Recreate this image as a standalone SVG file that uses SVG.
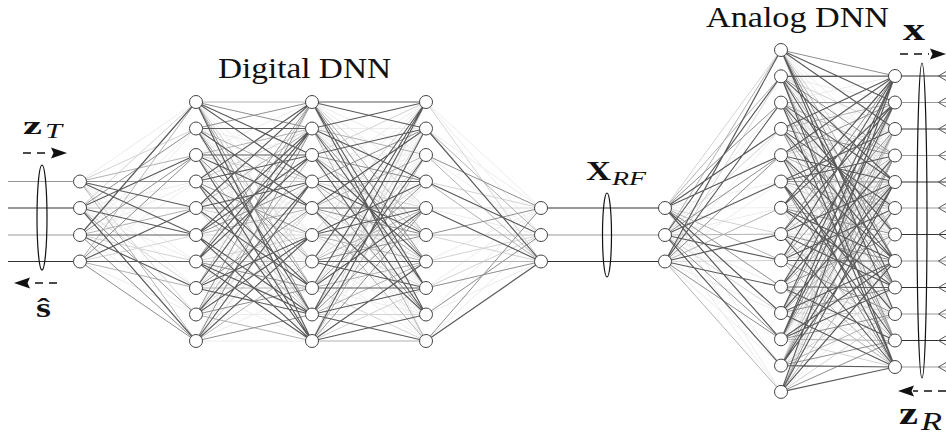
<svg xmlns="http://www.w3.org/2000/svg" width="946" height="439" viewBox="0 0 946 439">
<defs>
<style>
.e{fill:none;stroke-width:1}
.k0{stroke:#ececec}
.k1{stroke:#d3d3d3}
.k2{stroke:#b2b2b2}
.k3{stroke:#8e8e8e}
.k4{stroke:#5a5a5a;stroke-width:1.15}
.n circle{fill:#fff;stroke:#444;stroke-width:1}
.wd{stroke:#333;stroke-width:1.1;fill:none}
.wl{stroke:#999;stroke-width:1.1;fill:none}
.chev{fill:none;stroke:#555;stroke-width:1}
.ell{fill:none;stroke:#111;stroke-width:1.2}
.dash{fill:none;stroke:#111;stroke-width:1.3;stroke-dasharray:8 6}
.head{fill:#111}
text{font-family:"Liberation Serif","DejaVu Serif",serif;fill:#111}
.b{font-weight:bold}
.i{font-style:italic}
</style>
</defs>
<rect width="946" height="439" fill="#fff"/>
<g id="connectors">
<g id="edges-in-h1">
<path class="e k0" d="M80 181.5L196 102M80 181.5L196 261.5M80 181.5L196 288M80 208L196 181.5M80 208L196 261.5M80 235L196 128.5M80 235L196 181.5M80 235L196 314.5M80 261.5L196 128.5M80 261.5L196 181.5M80 261.5L196 314.5"/>
<path class="e k1" d="M80 181.5L196 128.5M80 181.5L196 314.5M80 208L196 102M80 208L196 288M80 235L196 261.5M80 261.5L196 235"/>
<path class="e k2" d="M80 181.5L196 155M80 181.5L196 341M80 208L196 208M80 235L196 208M80 261.5L196 102M80 261.5L196 288"/>
<path class="e k3" d="M80 181.5L196 181.5M80 208L196 128.5M80 208L196 314.5M80 235L196 155M80 235L196 341M80 261.5L196 155M80 261.5L196 341"/>
<path class="e k4" d="M80 181.5L196 208M80 181.5L196 235M80 208L196 155M80 208L196 235M80 208L196 341M80 235L196 102M80 235L196 235M80 235L196 288M80 261.5L196 208M80 261.5L196 261.5"/>
</g>
<g id="edges-h1-h2">
<path class="e k0" d="M196 102L312 208M196 102L312 235M196 128.5L312 155M196 128.5L312 235M196 128.5L312 341M196 155L312 102M196 155L312 235M196 155L312 288M196 181.5L312 208M196 181.5L312 261.5M196 208L312 155M196 208L312 261.5M196 208L312 341M196 235L312 102M196 235L312 261.5M196 235L312 288M196 261.5L312 181.5M196 261.5L312 208M196 288L312 155M196 288L312 261.5M196 288L312 341M196 314.5L312 128.5M196 314.5L312 261.5M196 314.5L312 314.5M196 341L312 102M196 341L312 155M196 341L312 288M196 341L312 341"/>
<path class="e k1" d="M196 102L312 261.5M196 128.5L312 261.5M196 155L312 181.5M196 181.5L312 128.5M196 181.5L312 314.5M196 208L312 235M196 235L312 235M196 261.5L312 235M196 288L312 181.5M196 314.5L312 208M196 341L312 208"/>
<path class="e k2" d="M196 102L312 102M196 102L312 288M196 128.5L312 181.5M196 155L312 128.5M196 155L312 314.5M196 181.5L312 181.5M196 208L312 128.5M196 208L312 314.5M196 235L312 208M196 261.5L312 261.5M196 288L312 102M196 288L312 288M196 314.5L312 155M196 314.5L312 341M196 341L312 261.5"/>
<path class="e k3" d="M196 102L312 128.5M196 102L312 314.5M196 128.5L312 102M196 128.5L312 288M196 155L312 261.5M196 181.5L312 235M196 208L312 208M196 235L312 181.5M196 261.5L312 102M196 261.5L312 288M196 288L312 208M196 314.5L312 102M196 314.5L312 288M196 341L312 128.5M196 341L312 314.5"/>
<path class="e k4" d="M196 102L312 155M196 102L312 181.5M196 102L312 341M196 128.5L312 128.5M196 128.5L312 208M196 128.5L312 314.5M196 155L312 155M196 155L312 208M196 155L312 341M196 181.5L312 102M196 181.5L312 155M196 181.5L312 288M196 181.5L312 341M196 208L312 102M196 208L312 181.5M196 208L312 288M196 235L312 128.5M196 235L312 155M196 235L312 314.5M196 235L312 341M196 261.5L312 128.5M196 261.5L312 155M196 261.5L312 314.5M196 261.5L312 341M196 288L312 128.5M196 288L312 235M196 288L312 314.5M196 314.5L312 181.5M196 314.5L312 235M196 341L312 181.5M196 341L312 235"/>
</g>
<g id="edges-h2-h3">
<path class="e k0" d="M312 102L426 155M312 102L426 181.5M312 102L426 341M312 128.5L426 128.5M312 128.5L426 208M312 128.5L426 314.5M312 155L426 155M312 155L426 208M312 155L426 341M312 181.5L426 102M312 181.5L426 155M312 181.5L426 288M312 181.5L426 341M312 208L426 102M312 208L426 181.5M312 208L426 288M312 235L426 128.5M312 235L426 155M312 235L426 314.5M312 235L426 341M312 261.5L426 128.5M312 261.5L426 155M312 261.5L426 314.5M312 261.5L426 341M312 288L426 128.5M312 288L426 235M312 288L426 314.5M312 314.5L426 181.5M312 314.5L426 235M312 341L426 181.5M312 341L426 235"/>
<path class="e k1" d="M312 102L426 208M312 128.5L426 235M312 155L426 102M312 155L426 288M312 181.5L426 208M312 208L426 261.5M312 235L426 102M312 235L426 288M312 261.5L426 181.5M312 288L426 155M312 288L426 341M312 314.5L426 128.5M312 314.5L426 314.5M312 341L426 102M312 341L426 288"/>
<path class="e k2" d="M312 102L426 235M312 128.5L426 155M312 128.5L426 341M312 155L426 235M312 181.5L426 261.5M312 208L426 155M312 208L426 341M312 235L426 261.5M312 261.5L426 208M312 288L426 261.5M312 314.5L426 261.5M312 341L426 155M312 341L426 341"/>
<path class="e k3" d="M312 102L426 261.5M312 128.5L426 261.5M312 155L426 181.5M312 181.5L426 128.5M312 181.5L426 314.5M312 208L426 235M312 235L426 235M312 261.5L426 235M312 288L426 181.5M312 314.5L426 208M312 341L426 208"/>
<path class="e k4" d="M312 102L426 102M312 102L426 128.5M312 102L426 288M312 102L426 314.5M312 128.5L426 102M312 128.5L426 181.5M312 128.5L426 288M312 155L426 128.5M312 155L426 261.5M312 155L426 314.5M312 181.5L426 181.5M312 181.5L426 235M312 208L426 128.5M312 208L426 208M312 208L426 314.5M312 235L426 181.5M312 235L426 208M312 261.5L426 102M312 261.5L426 261.5M312 261.5L426 288M312 288L426 102M312 288L426 208M312 288L426 288M312 314.5L426 102M312 314.5L426 155M312 314.5L426 288M312 314.5L426 341M312 341L426 128.5M312 341L426 261.5M312 341L426 314.5"/>
</g>
<g id="edges-h3-out">
<path class="e k0" d="M426 102L541 208M426 102L541 235M426 128.5L541 208M426 155L541 235M426 208L541 235M426 261.5L541 208M426 288L541 208M426 314.5L541 208M426 314.5L541 261.5M426 341L541 235"/>
<path class="e k1" d="M426 102L541 261.5M426 181.5L541 208M426 208L541 208M426 235L541 261.5M426 261.5L541 235M426 288L541 235"/>
<path class="e k2" d="M426 128.5L541 235M426 155L541 261.5M426 181.5L541 261.5M426 235L541 235M426 261.5L541 261.5"/>
<path class="e k3" d="M426 155L541 208M426 235L541 208M426 288L541 261.5M426 314.5L541 235M426 341L541 208"/>
<path class="e k4" d="M426 128.5L541 261.5M426 181.5L541 235M426 208L541 261.5M426 341L541 261.5"/>
</g>
<g id="edges-rf-a">
<path class="e k0" d="M665 208L781 181.5M665 208L781 207.8M665 208L781 365.6M665 208L781 391.9M665 235L781 102.6M665 235L781 207.8M665 235L781 286.7M665 235L781 391.9M665 261.5L781 128.9M665 261.5L781 181.5M665 261.5L781 313M665 261.5L781 365.6"/>
<path class="e k1" d="M665 208L781 50M665 208L781 234.1M665 235L781 128.9M665 235L781 313M665 261.5L781 76.3M665 261.5L781 260.4"/>
<path class="e k2" d="M665 208L781 76.3M665 208L781 260.4M665 235L781 50M665 235L781 234.1M665 261.5L781 207.8M665 261.5L781 391.9"/>
<path class="e k3" d="M665 208L781 102.6M665 208L781 286.7M665 235L781 155.2M665 235L781 339.3M665 261.5L781 155.2M665 261.5L781 339.3"/>
<path class="e k4" d="M665 208L781 128.9M665 208L781 155.2M665 208L781 313M665 208L781 339.3M665 235L781 76.3M665 235L781 181.5M665 235L781 260.4M665 235L781 365.6M665 261.5L781 50M665 261.5L781 102.6M665 261.5L781 234.1M665 261.5L781 286.7"/>
</g>
<g id="edges-a-b">
<path class="e k0" d="M781 50L895 155.5M781 50L895 182M781 50L895 340.5M781 50L895 367M781 76.3L895 102.5M781 76.3L895 208M781 76.3L895 287.5M781 102.6L895 76M781 102.6L895 129M781 102.6L895 261M781 102.6L895 314M781 128.9L895 129M781 128.9L895 182M781 128.9L895 314M781 128.9L895 367M781 155.2L895 155.5M781 155.2L895 234.5M781 155.2L895 340.5M781 181.5L895 76M781 181.5L895 102.5M781 181.5L895 261M781 181.5L895 287.5M781 207.8L895 129M781 207.8L895 155.5M781 207.8L895 314M781 207.8L895 340.5M781 234.1L895 129M781 234.1L895 208M781 234.1L895 314M781 260.4L895 102.5M781 260.4L895 155.5M781 260.4L895 287.5M781 260.4L895 340.5M781 286.7L895 76M781 286.7L895 208M781 286.7L895 261M781 313L895 155.5M781 313L895 234.5M781 313L895 340.5M781 339.3L895 208M781 339.3L895 234.5M781 365.6L895 76M781 365.6L895 234.5M781 365.6L895 261M781 391.9L895 102.5M781 391.9L895 208M781 391.9L895 287.5"/>
<path class="e k1" d="M781 50L895 208M781 76.3L895 129M781 76.3L895 314M781 102.6L895 208M781 128.9L895 234.5M781 155.2L895 129M781 155.2L895 314M781 181.5L895 234.5M781 207.8L895 182M781 207.8L895 367M781 234.1L895 234.5M781 260.4L895 234.5M781 286.7L895 129M781 286.7L895 314M781 313L895 129M781 313L895 314M781 339.3L895 182M781 339.3L895 367M781 365.6L895 102.5M781 365.6L895 287.5M781 391.9L895 129M781 391.9L895 314"/>
<path class="e k2" d="M781 50L895 234.5M781 76.3L895 234.5M781 102.6L895 155.5M781 102.6L895 340.5M781 128.9L895 102.5M781 128.9L895 287.5M781 155.2L895 208M781 181.5L895 208M781 207.8L895 208M781 234.1L895 155.5M781 234.1L895 340.5M781 260.4L895 182M781 260.4L895 367M781 286.7L895 182M781 286.7L895 367M781 313L895 208M781 339.3L895 155.5M781 339.3L895 340.5M781 365.6L895 129M781 365.6L895 314M781 391.9L895 234.5"/>
<path class="e k3" d="M781 50L895 76M781 50L895 261M781 76.3L895 155.5M781 76.3L895 340.5M781 102.6L895 102.5M781 102.6L895 287.5M781 128.9L895 155.5M781 128.9L895 340.5M781 155.2L895 102.5M781 155.2L895 287.5M781 181.5L895 182M781 181.5L895 367M781 207.8L895 234.5M781 234.1L895 76M781 234.1L895 261M781 260.4L895 129M781 260.4L895 314M781 286.7L895 234.5M781 313L895 102.5M781 313L895 287.5M781 339.3L895 129M781 339.3L895 314M781 365.6L895 155.5M781 365.6L895 340.5M781 391.9L895 155.5M781 391.9L895 340.5"/>
<path class="e k4" d="M781 50L895 102.5M781 50L895 129M781 50L895 287.5M781 50L895 314M781 76.3L895 76M781 76.3L895 182M781 76.3L895 261M781 76.3L895 367M781 102.6L895 182M781 102.6L895 234.5M781 102.6L895 367M781 128.9L895 76M781 128.9L895 208M781 128.9L895 261M781 155.2L895 76M781 155.2L895 182M781 155.2L895 261M781 155.2L895 367M781 181.5L895 129M781 181.5L895 155.5M781 181.5L895 314M781 181.5L895 340.5M781 207.8L895 76M781 207.8L895 102.5M781 207.8L895 261M781 207.8L895 287.5M781 234.1L895 102.5M781 234.1L895 182M781 234.1L895 287.5M781 234.1L895 367M781 260.4L895 76M781 260.4L895 208M781 260.4L895 261M781 286.7L895 102.5M781 286.7L895 155.5M781 286.7L895 287.5M781 286.7L895 340.5M781 313L895 76M781 313L895 182M781 313L895 261M781 313L895 367M781 339.3L895 76M781 339.3L895 102.5M781 339.3L895 261M781 339.3L895 287.5M781 365.6L895 182M781 365.6L895 208M781 365.6L895 367M781 391.9L895 76M781 391.9L895 182M781 391.9L895 261M781 391.9L895 367"/>
</g>
<g id="wires">
<path class="wl" d="M8 181.5H80M8 235H80M541 235H665"/>
<path class="wd" d="M8 208H80M8 261.5H80M541 208H665M541 261.5H665"/>
<path class="wd" d="M895 76H946M895 129H946M895 182H946M895 234.5H946M895 287.5H946M895 340.5H946"/>
<path class="wl" d="M895 102.5H946M895 155.5H946M895 208H946M895 261H946M895 314H946M895 367H946"/>
<path class="chev" d="M946 71.5L938.5 76L946 80.5M946 98L938.5 102.5L946 107M946 124.5L938.5 129L946 133.5M946 151L938.5 155.5L946 160M946 177.5L938.5 182L946 186.5M946 203.5L938.5 208L946 212.5M946 230L938.5 234.5L946 239M946 256.5L938.5 261L946 265.5M946 283L938.5 287.5L946 292M946 309.5L938.5 314L946 318.5M946 336L938.5 340.5L946 345M946 362.5L938.5 367L946 371.5"/>
</g>
<g id="groupings">
<ellipse class="ell" cx="42" cy="217.5" rx="5" ry="52.5"/>
<ellipse class="ell" cx="607" cy="235" rx="4.5" ry="42"/>
<ellipse class="ell" cx="922" cy="220.5" rx="5" ry="157.5"/>
</g>
<g id="arrows">
<path class="dash" d="M23 153H51"/>
<path class="head" d="M67 153L51 147.5L53.5 153L51 158.5Z"/>
<path class="dash" d="M57 283H29"/>
<path class="head" d="M14 283L30 277.5L27.5 283L30 288.5Z"/>
<path class="dash" d="M900 54H929"/>
<path class="head" d="M946 54L930 48.5L932.5 54L930 59.5Z"/>
<path class="dash" d="M946 391H913"/>
<path class="head" d="M898 391L914 385.5L911.5 391L914 396.5Z"/>
</g>
</g>
<g id="nodes" class="n">
<g id="in0"><circle cx="80" cy="181.5" r="6.5"/></g>
<g id="in1"><circle cx="80" cy="208" r="6.5"/></g>
<g id="in2"><circle cx="80" cy="235" r="6.5"/></g>
<g id="in3"><circle cx="80" cy="261.5" r="6.5"/></g>
<g id="d1_0"><circle cx="196" cy="102" r="6.5"/></g>
<g id="d1_1"><circle cx="196" cy="128.5" r="6.5"/></g>
<g id="d1_2"><circle cx="196" cy="155" r="6.5"/></g>
<g id="d1_3"><circle cx="196" cy="181.5" r="6.5"/></g>
<g id="d1_4"><circle cx="196" cy="208" r="6.5"/></g>
<g id="d1_5"><circle cx="196" cy="235" r="6.5"/></g>
<g id="d1_6"><circle cx="196" cy="261.5" r="6.5"/></g>
<g id="d1_7"><circle cx="196" cy="288" r="6.5"/></g>
<g id="d1_8"><circle cx="196" cy="314.5" r="6.5"/></g>
<g id="d1_9"><circle cx="196" cy="341" r="6.5"/></g>
<g id="d2_0"><circle cx="312" cy="102" r="6.5"/></g>
<g id="d2_1"><circle cx="312" cy="128.5" r="6.5"/></g>
<g id="d2_2"><circle cx="312" cy="155" r="6.5"/></g>
<g id="d2_3"><circle cx="312" cy="181.5" r="6.5"/></g>
<g id="d2_4"><circle cx="312" cy="208" r="6.5"/></g>
<g id="d2_5"><circle cx="312" cy="235" r="6.5"/></g>
<g id="d2_6"><circle cx="312" cy="261.5" r="6.5"/></g>
<g id="d2_7"><circle cx="312" cy="288" r="6.5"/></g>
<g id="d2_8"><circle cx="312" cy="314.5" r="6.5"/></g>
<g id="d2_9"><circle cx="312" cy="341" r="6.5"/></g>
<g id="d3_0"><circle cx="426" cy="102" r="6.5"/></g>
<g id="d3_1"><circle cx="426" cy="128.5" r="6.5"/></g>
<g id="d3_2"><circle cx="426" cy="155" r="6.5"/></g>
<g id="d3_3"><circle cx="426" cy="181.5" r="6.5"/></g>
<g id="d3_4"><circle cx="426" cy="208" r="6.5"/></g>
<g id="d3_5"><circle cx="426" cy="235" r="6.5"/></g>
<g id="d3_6"><circle cx="426" cy="261.5" r="6.5"/></g>
<g id="d3_7"><circle cx="426" cy="288" r="6.5"/></g>
<g id="d3_8"><circle cx="426" cy="314.5" r="6.5"/></g>
<g id="d3_9"><circle cx="426" cy="341" r="6.5"/></g>
<g id="dout0"><circle cx="541" cy="208" r="6.5"/></g>
<g id="dout1"><circle cx="541" cy="235" r="6.5"/></g>
<g id="dout2"><circle cx="541" cy="261.5" r="6.5"/></g>
<g id="rf0"><circle cx="665" cy="208" r="6.5"/></g>
<g id="rf1"><circle cx="665" cy="235" r="6.5"/></g>
<g id="rf2"><circle cx="665" cy="261.5" r="6.5"/></g>
<g id="a_0"><circle cx="781" cy="50" r="6.5"/></g>
<g id="a_1"><circle cx="781" cy="76.3" r="6.5"/></g>
<g id="a_2"><circle cx="781" cy="102.6" r="6.5"/></g>
<g id="a_3"><circle cx="781" cy="128.9" r="6.5"/></g>
<g id="a_4"><circle cx="781" cy="155.2" r="6.5"/></g>
<g id="a_5"><circle cx="781" cy="181.5" r="6.5"/></g>
<g id="a_6"><circle cx="781" cy="207.8" r="6.5"/></g>
<g id="a_7"><circle cx="781" cy="234.1" r="6.5"/></g>
<g id="a_8"><circle cx="781" cy="260.4" r="6.5"/></g>
<g id="a_9"><circle cx="781" cy="286.7" r="6.5"/></g>
<g id="a_10"><circle cx="781" cy="313" r="6.5"/></g>
<g id="a_11"><circle cx="781" cy="339.3" r="6.5"/></g>
<g id="a_12"><circle cx="781" cy="365.6" r="6.5"/></g>
<g id="a_13"><circle cx="781" cy="391.9" r="6.5"/></g>
<g id="b_0"><circle cx="895" cy="76" r="6.5"/></g>
<g id="b_1"><circle cx="895" cy="102.5" r="6.5"/></g>
<g id="b_2"><circle cx="895" cy="129" r="6.5"/></g>
<g id="b_3"><circle cx="895" cy="155.5" r="6.5"/></g>
<g id="b_4"><circle cx="895" cy="182" r="6.5"/></g>
<g id="b_5"><circle cx="895" cy="208" r="6.5"/></g>
<g id="b_6"><circle cx="895" cy="234.5" r="6.5"/></g>
<g id="b_7"><circle cx="895" cy="261" r="6.5"/></g>
<g id="b_8"><circle cx="895" cy="287.5" r="6.5"/></g>
<g id="b_9"><circle cx="895" cy="314" r="6.5"/></g>
<g id="b_10"><circle cx="895" cy="340.5" r="6.5"/></g>
<g id="b_11"><circle cx="895" cy="367" r="6.5"/></g>
</g>
<g id="labels">
<text x="218" y="78" font-size="30" textLength="173" lengthAdjust="spacingAndGlyphs">Digital DNN</text>
<text x="706" y="27" font-size="30" textLength="183" lengthAdjust="spacingAndGlyphs">Analog DNN</text>
<text x="23" y="134" class="b" font-size="25" textLength="19" lengthAdjust="spacingAndGlyphs">z</text>
<text x="45" y="137.5" class="i" font-size="21" textLength="17" lengthAdjust="spacingAndGlyphs">T</text>
<text x="36" y="317" class="b" font-size="27" textLength="15" lengthAdjust="spacingAndGlyphs">ŝ</text>
<text x="586" y="180" class="b" font-size="27" textLength="25" lengthAdjust="spacingAndGlyphs">X</text>
<text x="612" y="185" class="i" font-size="19" textLength="34" lengthAdjust="spacingAndGlyphs">RF</text>
<text x="903" y="40" class="b" font-size="32" textLength="22" lengthAdjust="spacingAndGlyphs">x</text>
<text x="899" y="424" class="b" font-size="32" textLength="19" lengthAdjust="spacingAndGlyphs">z</text>
<text x="921" y="430" class="i" font-size="25" textLength="21" lengthAdjust="spacingAndGlyphs">R</text>
</g>
</svg>
